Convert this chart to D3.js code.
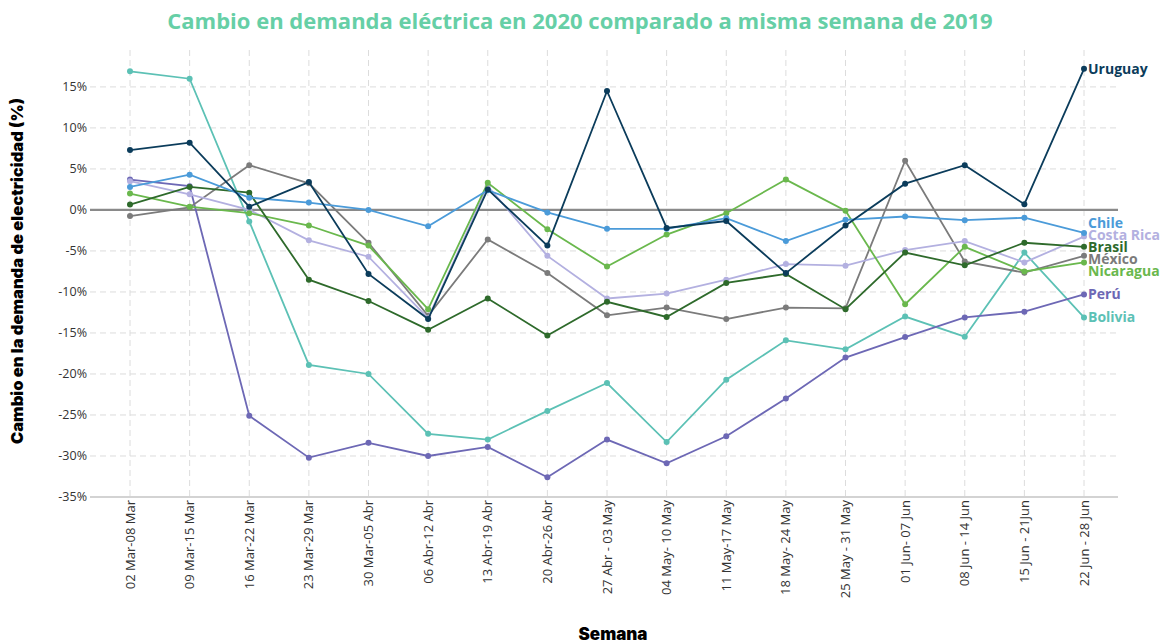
<!DOCTYPE html>
<html>
<head>
<meta charset="utf-8">
<script src="https://cdn.jsdelivr.net/npm/d3@7"></script>
<style>
  body { margin: 0; background: #fff; }
  svg { display: block; font-family: "Open Sans", sans-serif; }
</style>
</head>
<body>
<svg id="chart" width="1169" height="642"></svg>
<script>
// weeks shown on the x axis
var weeks = ["02 Mar-08 Mar", "09 Mar-15 Mar", "16 Mar-22 Mar", "23 Mar-29 Mar", "30 Mar-05 Abr",
  "06 Abr-12 Abr", "13 Abr-19 Abr", "20 Abr-26 Abr", "27 Abr - 03 May", "04 May- 10 May",
  "11 May-17 May", "18 May- 24 May", "25 May - 31 May", "01 Jun- 07 Jun", "08 Jun - 14 Jun",
  "15 Jun - 21Jun", "22 Jun - 28 Jun"];

var yTicks = [15, 10, 5, 0, -5, -10, -15, -20, -25, -30, -35];

// % change vs same week of 2019
var uruguay   = [7.3, 8.2, 0.4, 3.4, -7.8, -13.3, 2.5, -4.35, 14.5, -2.2, -1.35, -7.7, -1.9, 3.2, 5.45, 0.7, 17.2];
var chile     = [2.8, 4.3, 1.5, 0.9, 0.0, -2.0, 2.4, -0.3, -2.3, -2.3, -1.0, -3.8, -1.2, -0.8, -1.25, -0.95, -2.8];
var costaRica = [3.5, 1.9, 0.0, -3.7, -5.7, -13.2, 2.9, -5.6, -10.8, -10.2, -8.5, -6.6, -6.8, -4.9, -3.8, -6.4, -3.25];
var brasil    = [0.65, 2.8, 2.1, -8.5, -11.1, -14.6, -10.8, -15.3, -11.2, -13.05, -8.9, -7.8, -12.1, -5.2, -6.75, -4.0, -4.5];
var mexico    = [-0.75, 0.3, 5.45, 3.25, -4.0, -12.9, -3.6, -7.7, -12.85, -11.9, -13.3, -11.9, -12.0, 6.0, -6.3, -7.65, -5.6];
var nicaragua = [2.0, 0.4, -0.4, -1.9, -4.35, -12.1, 3.3, -2.35, -6.9, -3.0, -0.4, 3.7, -0.1, -11.5, -4.5, -7.5, -6.4];
var peru      = [3.7, 2.9, -25.1, -30.2, -28.4, -30.0, -28.9, -32.6, -28.0, -30.9, -27.6, -23.0, -18.0, -15.5, -13.1, -12.4, -10.3];
var bolivia   = [16.9, 16.0, -1.4, -18.9, -20.0, -27.3, -28.0, -24.5, -21.1, -28.3, -20.7, -15.9, -17.0, -13.0, -15.45, -5.2, -13.1];

var countries = ["Bolivia", "Perú", "México", "Costa Rica", "Nicaragua", "Brasil", "Chile", "Uruguay"];
var colors = ["#5cc1b5", "#6d68b5", "#7b7b7b", "#b3b0e0", "#6ab84d", "#2e6a2b", "#4b9bd9", "#0b3c5b"];
var values = [bolivia, peru, mexico, costaRica, nicaragua, brasil, chile, uruguay];

var series = countries.map(function(c, i) {
  return { name: c, color: colors[i], values: values[i] };
});

var svg = d3.select("#chart");
var plotLeft = 90, plotRight = 1118, plotTop = 50, plotBottom = 497;

var x = d3.scalePoint().domain(weeks).range([130, 1084]);
var y = d3.scaleLinear().domain([-35, 19.5]).range([plotBottom, plotTop]);

// title
svg.append("text")
  .attr("x", 580).attr("y", 29)
  .attr("text-anchor", "middle")
  .attr("fill", "#66cfa6")
  .style("font-weight", 700)
  .style("font-size", "22px")
  .text("Cambio en demanda eléctrica en 2020 comparado a misma semana de 2019");

// grid
var grid = svg.append("g");
grid.selectAll(".hgrid").data(yTicks.filter(function(d) { return d !== 0 && d !== -35; }))
  .enter().append("line")
  .attr("x1", plotLeft).attr("x2", plotRight)
  .attr("y1", function(d) { return y(d); }).attr("y2", function(d) { return y(d); })
  .attr("stroke", "#dcdcdc").attr("stroke-dasharray", "6,4");
grid.selectAll(".vgrid").data(weeks)
  .enter().append("line")
  .attr("x1", function(d) { return x(d); }).attr("x2", function(d) { return x(d); })
  .attr("y1", plotTop).attr("y2", plotBottom)
  .attr("stroke", "#dcdcdc").attr("stroke-dasharray", "6,4");

// bottom axis line + zero line
svg.append("line").attr("x1", plotLeft).attr("x2", plotRight).attr("y1", y(-35)).attr("y2", y(-35))
  .attr("stroke", "#a8a8a8").attr("stroke-width", 1.2);
svg.append("line").attr("x1", plotLeft).attr("x2", plotRight).attr("y1", y(0)).attr("y2", y(0))
  .attr("stroke", "#8a8a8a").attr("stroke-width", 2.2);

// y tick labels
svg.selectAll(".ytick").data(yTicks).enter().append("text")
  .attr("x", 87).attr("y", function(d) { return y(d); })
  .attr("dy", "0.35em")
  .attr("text-anchor", "end")
  .attr("fill", "#333")
  .style("font-size", "12.5px")
  .text(function(d) { return d + "%"; });

// x tick labels
svg.selectAll(".xtick").data(weeks).enter().append("text")
  .attr("transform", function(d) { return "translate(" + x(d) + "," + (plotBottom + 3) + ") rotate(-90)"; })
  .attr("dy", "0.35em")
  .attr("text-anchor", "end")
  .attr("fill", "#333")
  .style("font-size", "13px")
  .text(function(d) { return d; });

// axis titles
svg.append("text")
  .attr("transform", "translate(23,271) rotate(-90)")
  .attr("text-anchor", "middle")
  .attr("fill", "#000")
  .style("font-family", "Inter, 'Open Sans', sans-serif")
  .style("font-weight", 900)
  .style("font-size", "16.5px")
  .text("Cambio en la demanda de electricidad (%)");
svg.append("text")
  .attr("x", 613).attr("y", 640)
  .attr("text-anchor", "middle")
  .attr("fill", "#000")
  .style("font-family", "Inter, 'Open Sans', sans-serif")
  .style("font-weight", 900)
  .style("font-size", "17px")
  .text("Semana");

// lines
var line = d3.line()
  .x(function(d, i) { return x(weeks[i]); })
  .y(function(d) { return y(d); });

var g = svg.selectAll(".series").data(series).enter().append("g");
g.append("path")
  .attr("d", function(d) { return line(d.values); })
  .attr("fill", "none")
  .attr("stroke", function(d) { return d.color; })
  .attr("stroke-width", 1.8);
g.selectAll("circle").data(function(d) { return d.values.map(function(v) { return { v: v, c: d.color }; }); })
  .enter().append("circle")
  .attr("cx", function(d, i) { return x(weeks[i]); })
  .attr("cy", function(d) { return y(d.v); })
  .attr("r", 3)
  .attr("fill", function(d) { return d.c; });

// end labels, pushed apart in clusters so they don't overlap
var gap = 12;
var labels = series.map(function(s) {
  return { name: s.name, color: s.color, target: y(s.values[s.values.length - 1]) };
}).sort(function(a, b) { return a.target - b.target; });

var clusters = labels.map(function(l) { return { items: [l], center: l.target }; });
var merged = true;
while (merged) {
  merged = false;
  for (var i = 0; i < clusters.length - 1; i++) {
    var a = clusters[i], b = clusters[i + 1];
    var aBottom = a.center + (a.items.length - 1) * gap / 2;
    var bTop = b.center - (b.items.length - 1) * gap / 2;
    if (bTop - aBottom < gap) {
      var items = a.items.concat(b.items);
      var center = d3.mean(items, function(d) { return d.target; });
      clusters.splice(i, 2, { items: items, center: center });
      merged = true;
      break;
    }
  }
}
clusters.forEach(function(c) {
  c.items.forEach(function(l, k) {
    l.y = c.center + (k - (c.items.length - 1) / 2) * gap;
  });
});

svg.selectAll(".endlabel").data(labels).enter().append("text")
  .attr("x", 1088)
  .attr("y", function(d) { return d.y; })
  .attr("dy", "0.35em")
  .attr("fill", function(d) { return d.color; })
  .style("font-weight", 700)
  .style("font-size", "14px")
  .text(function(d) { return d.name; });
</script>
</body>
</html>
